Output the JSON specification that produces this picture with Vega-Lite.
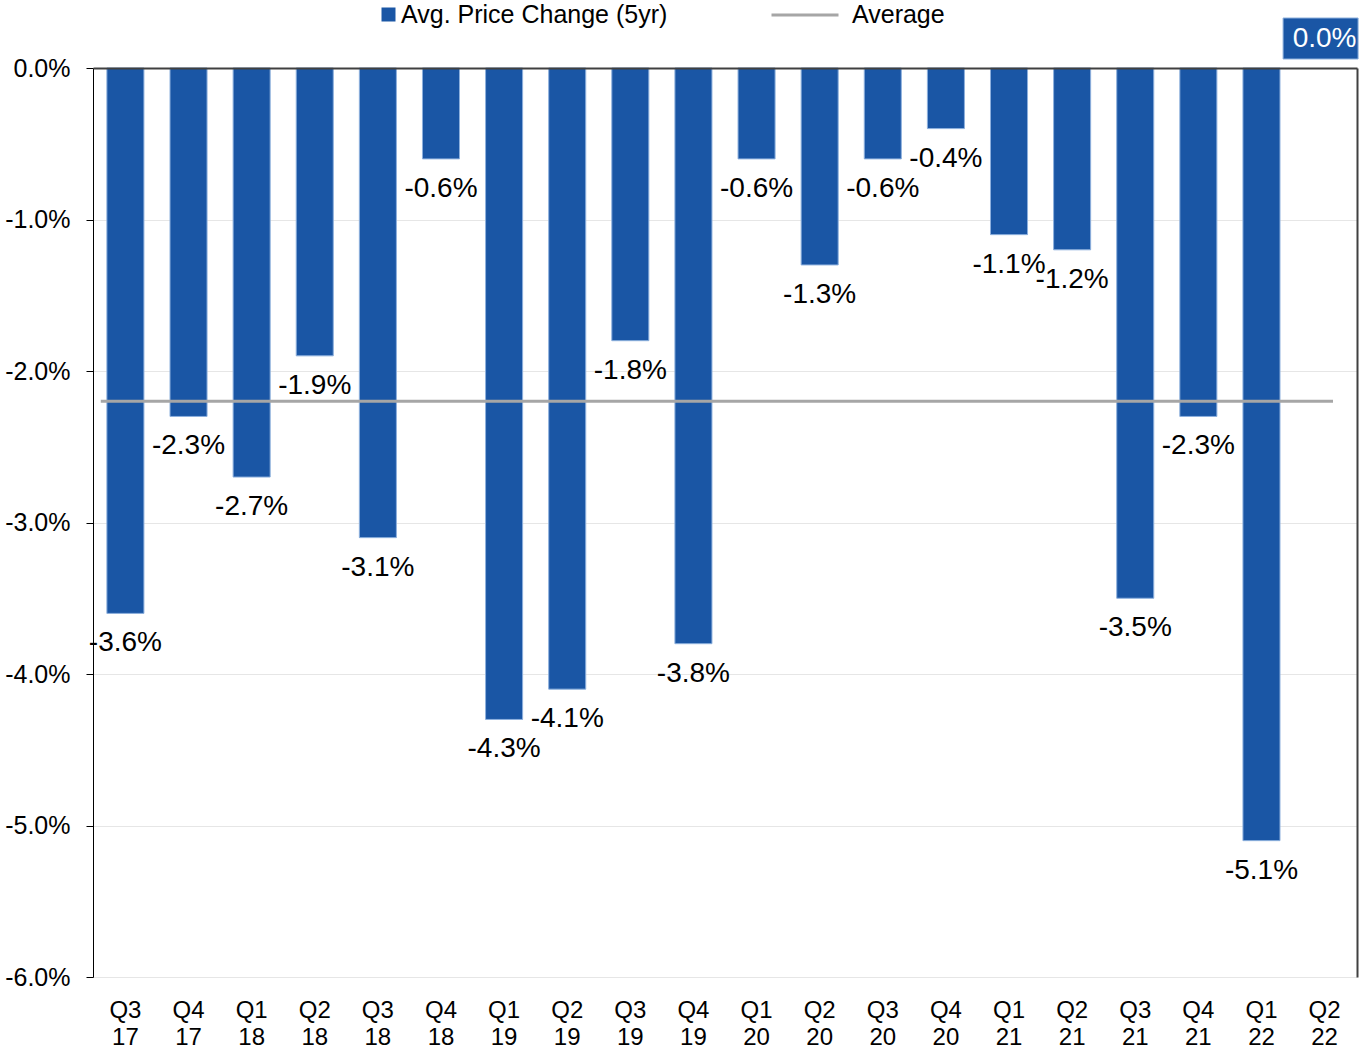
{
  "$schema": "https://vega.github.io/schema/vega-lite/v6.json",
  "width": 1264,
  "height": 909,
  "autosize": "none",
  "padding": {"left": 93, "top": 68, "right": 10, "bottom": 76},
  "background": "white",
  "config": {
    "font": "Liberation Sans",
    "view": {"stroke": null},
    "locale": {"number": {"decimal": ".", "thousands": ",", "grouping": [3], "currency": ["$", ""], "minus": "-"}},
    "axis": {"labelFont": "Liberation Sans", "labelColor": "#000000", "labelFontSize": 25}
  },
  "datasets": {
    "main": [
      {"q": "Q3 17", "v": -0.036},
      {"q": "Q4 17", "v": -0.023},
      {"q": "Q1 18", "v": -0.027},
      {"q": "Q2 18", "v": -0.019},
      {"q": "Q3 18", "v": -0.031},
      {"q": "Q4 18", "v": -0.006},
      {"q": "Q1 19", "v": -0.043},
      {"q": "Q2 19", "v": -0.041},
      {"q": "Q3 19", "v": -0.018},
      {"q": "Q4 19", "v": -0.038},
      {"q": "Q1 20", "v": -0.006},
      {"q": "Q2 20", "v": -0.013},
      {"q": "Q3 20", "v": -0.006},
      {"q": "Q4 20", "v": -0.004},
      {"q": "Q1 21", "v": -0.011},
      {"q": "Q2 21", "v": -0.012},
      {"q": "Q3 21", "v": -0.035},
      {"q": "Q4 21", "v": -0.023},
      {"q": "Q1 22", "v": -0.051},
      {"q": "Q2 22", "v": 0.0}
    ],
    "avg": [
      {"a": -0.022, "s": "Q3 17", "e": "Q2 22"}
    ]
  },
  "resolve": {"axis": {"y": "independent", "x": "independent"}},
  "layer": [
    {
      "data": {"name": "main"},
      "transform": [{"filter": "datum.v < 0"}],
      "mark": {"type": "bar", "stroke": "#8DB0DD", "strokeWidth": 1},
      "encoding": {
        "x": {
          "field": "q", "type": "nominal", "sort": null,
          "scale": {
            "domain": ["Q3 17","Q4 17","Q1 18","Q2 18","Q3 18","Q4 18","Q1 19","Q2 19","Q3 19","Q4 19","Q1 20","Q2 20","Q3 20","Q4 20","Q1 21","Q2 21","Q3 21","Q4 21","Q1 22","Q2 22"],
            "paddingInner": 0.413, "paddingOuter": 0.22
          },
          "axis": {
            "orient": "bottom", "title": null, "domain": false, "ticks": false,
            "labelAngle": 0, "labelPadding": 21, "labelLineHeight": 27,
            "labelExpr": "split(datum.label, ' ')", "labelFontSize": 24
          }
        },
        "y": {
          "field": "v", "type": "quantitative",
          "scale": {"domain": [-0.06, 0], "nice": false, "zero": false},
          "axis": {
            "orient": "left", "title": null, "format": ".1%",
            "values": [0, -0.01, -0.02, -0.03, -0.04, -0.05, -0.06],
            "domainColor": "#000000", "domainWidth": 1,
            "tickColor": "#000000", "tickSize": 7, "tickWidth": 1,
            "labelPadding": 16, "labelFontSize": 25,
            "grid": true, "gridColor": "#E6E6E6", "gridWidth": 1
          }
        },
        "fill": {
          "datum": "Avg. Price Change (5yr)",
          "scale": {"range": ["#1A56A5"]},
          "legend": {
            "title": null, "orient": "none", "legendX": 283, "legendY": -66,
            "symbolType": "square", "symbolSize": 196, "symbolStrokeWidth": 0,
            "labelFontSize": 25, "labelColor": "#000000", "labelOffset": 0, "labelLimit": 0, "padding": 0
          }
        }
      }
    },
    {
      "data": {"name": "avg"},
      "mark": {"type": "rule", "strokeWidth": 3},
      "encoding": {
        "x": {
          "field": "s", "type": "nominal", "bandPosition": -0.165,
          "axis": {
            "orient": "top", "title": null, "labels": false, "ticks": false,
            "domain": true, "domainColor": "#404040", "domainWidth": 2, "zindex": 1
          }
        },
        "x2": {"field": "e", "bandPosition": 0.727},
        "y": {
          "field": "a", "type": "quantitative",
          "axis": {
            "orient": "right", "title": null, "labels": false, "ticks": false, "grid": false,
            "domain": true, "domainColor": "#404040", "domainWidth": 2, "zindex": 1
          }
        },
        "stroke": {
          "datum": "Average",
          "scale": {"range": ["#A6A6A6"]},
          "legend": {
            "title": null, "orient": "none", "legendX": 677, "legendY": -88,
            "symbolType": "stroke", "symbolSize": 4489, "symbolStrokeWidth": 3,
            "labelFontSize": 25, "labelColor": "#000000", "labelOffset": 12, "labelLimit": 0, "padding": 0
          }
        }
      }
    },
    {
      "data": {"name": "main"},
      "transform": [{"filter": "datum.v < 0"}],
      "mark": {"type": "text", "baseline": "middle", "align": "center", "dy": 30, "fontSize": 28, "color": "#000000"},
      "encoding": {
        "x": {"field": "q", "type": "nominal", "axis": null},
        "y": {"field": "v", "type": "quantitative", "axis": null},
        "text": {"field": "v", "type": "quantitative", "format": ".1%"}
      }
    },
    {
      "data": {"name": "main"},
      "transform": [{"filter": "datum.v === 0"}],
      "mark": {"type": "bar", "color": "#1A56A5", "stroke": "#8DB0DD", "strokeWidth": 1, "width": 75, "xOffset": -4, "yOffset": -9, "y2Offset": -50},
      "encoding": {
        "x": {"field": "q", "type": "nominal", "axis": null},
        "y": {"field": "v", "type": "quantitative", "axis": null},
        "y2": {"field": "v"}
      }
    },
    {
      "data": {"name": "main"},
      "transform": [{"filter": "datum.v === 0"}],
      "mark": {"type": "text", "baseline": "middle", "align": "center", "dy": -29, "fontSize": 28, "color": "#FFFFFF"},
      "encoding": {
        "x": {"field": "q", "type": "nominal", "axis": null},
        "y": {"field": "v", "type": "quantitative", "axis": null},
        "text": {"field": "v", "type": "quantitative", "format": ".1%"}
      }
    }
  ]
}
